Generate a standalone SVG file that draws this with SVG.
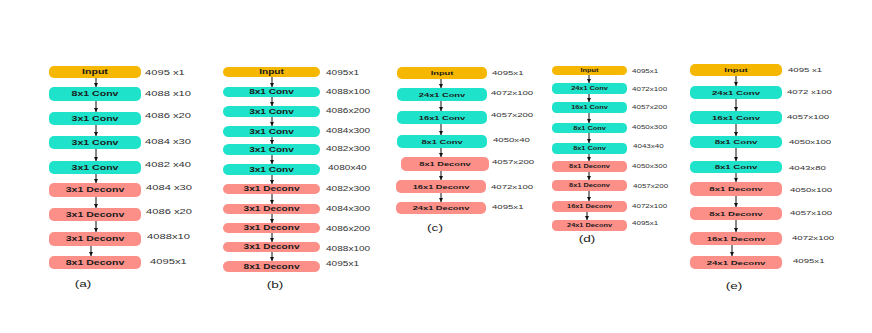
<svg xmlns="http://www.w3.org/2000/svg" width="872" height="333" viewBox="0 0 872 333">
<defs>
<marker id="ah" viewBox="0 0 4 4" refX="4" refY="2" markerWidth="4" markerHeight="4" markerUnits="userSpaceOnUse" orient="auto"><path d="M0,0 L4,2 L0,4 z" fill="#111"/></marker>
</defs>
<style>
text{font-family:"Liberation Sans",Arial,sans-serif;}
.in{fill:#F5B700;}
.cv{fill:#1EE3CA;}
.dc{fill:#FC8F88;}
.t{font-weight:bold;fill:#1a1a1a;text-anchor:middle;}
.l{fill:#333;}
.cap{fill:#222;text-anchor:middle;font-size:8.5px;}
.ta{font-size:6.6px}.la{font-size:7px}
.tb{font-size:6.3px}.lb{font-size:6.3px}
.tc{font-size:5.8px}.lc{font-size:6px}
.td{font-size:4.6px}.ld{font-size:5px}
.te{font-size:6px}.le{font-size:6px}
.ar{stroke:#111;stroke-width:1;fill:none;marker-end:url(#ah);}
</style>
<rect width="872" height="333" fill="#fff"/>

<!-- Column (a) -->
<g id="col-a">
<g id="a1"><rect class="in" x="49" y="66" width="92" height="12" rx="5"/><text class="t ta" transform="matrix(1.6 0 0 1 95 74.4)">Input</text></g>
<g id="a2"><rect class="cv" x="49" y="87" width="92" height="14" rx="5"/><text class="t ta" transform="matrix(1.6 0 0 1 95 96.4)">8x1 Conv</text></g>
<g id="a3"><rect class="cv" x="49" y="112" width="92" height="13" rx="5"/><text class="t ta" transform="matrix(1.6 0 0 1 95 120.9)">3x1 Conv</text></g>
<g id="a4"><rect class="cv" x="49" y="136" width="92" height="13" rx="5"/><text class="t ta" transform="matrix(1.6 0 0 1 95 144.9)">3x1 Conv</text></g>
<g id="a5"><rect class="cv" x="49" y="161" width="92" height="13" rx="5"/><text class="t ta" transform="matrix(1.6 0 0 1 95 169.9)">3x1 Conv</text></g>
<g id="a6"><rect class="dc" x="49" y="183" width="92" height="14" rx="5"/><text class="t ta" transform="matrix(1.6 0 0 1 95 192.4)">3x1 Deconv</text></g>
<g id="a7"><rect class="dc" x="49" y="208" width="92" height="13" rx="5"/><text class="t ta" transform="matrix(1.6 0 0 1 95 216.9)">3x1 Deconv</text></g>
<g id="a8"><rect class="dc" x="49" y="232" width="92" height="14" rx="5"/><text class="t ta" transform="matrix(1.6 0 0 1 95 241.4)">3x1 Deconv</text></g>
<g id="a9"><rect class="dc" x="49" y="256" width="92" height="13" rx="5"/><text class="t ta" transform="matrix(1.6 0 0 1 95 264.9)">8x1 Deconv</text></g>
<text class="l la" transform="matrix(1.6 0 0 1 145 74.5)">4095 x1</text>
<text class="l la" transform="matrix(1.6 0 0 1 145 95.5)">4088 x10</text>
<text class="l la" transform="matrix(1.6 0 0 1 145 117.5)">4086 x20</text>
<text class="l la" transform="matrix(1.6 0 0 1 145 143.5)">4084 x30</text>
<text class="l la" transform="matrix(1.6 0 0 1 145 166.5)">4082 x40</text>
<text class="l la" transform="matrix(1.6 0 0 1 146 189.5)">4084 x30</text>
<text class="l la" transform="matrix(1.6 0 0 1 146 213.5)">4086 x20</text>
<text class="l la" transform="matrix(1.6 0 0 1 147 238.5)">4088x10</text>
<text class="l la" transform="matrix(1.6 0 0 1 150 263.5)">4095x1</text>
<text class="cap" transform="matrix(1.6 0 0 1 83 287)">(a)</text>
</g>

<!-- Column (b) -->
<g id="col-b">
<g id="b1"><rect class="in" x="223" y="67" width="97" height="10" rx="5"/><text class="t tb" transform="matrix(1.6 0 0 1 271.5 74.3)">Input</text></g>
<g id="b2"><rect class="cv" x="223" y="87" width="97" height="10" rx="5"/><text class="t tb" transform="matrix(1.6 0 0 1 271.5 94.3)">8x1 Conv</text></g>
<g id="b3"><rect class="cv" x="223" y="106" width="97" height="11" rx="5.5"/><text class="t tb" transform="matrix(1.6 0 0 1 271.5 113.8)">3x1 Conv</text></g>
<g id="b4"><rect class="cv" x="223" y="126" width="97" height="11" rx="5.5"/><text class="t tb" transform="matrix(1.6 0 0 1 271.5 133.8)">3x1 Conv</text></g>
<g id="b5"><rect class="cv" x="223" y="144" width="97" height="11" rx="5.5"/><text class="t tb" transform="matrix(1.6 0 0 1 271.5 151.8)">3x1 Conv</text></g>
<g id="b6"><rect class="cv" x="223" y="164" width="97" height="11" rx="5.5"/><text class="t tb" transform="matrix(1.6 0 0 1 271.5 171.8)">3x1 Conv</text></g>
<g id="b7"><rect class="dc" x="223" y="184" width="97" height="10" rx="5"/><text class="t tb" transform="matrix(1.6 0 0 1 271.5 191.3)">3x1 Deconv</text></g>
<g id="b8"><rect class="dc" x="223" y="204" width="97" height="10" rx="5"/><text class="t tb" transform="matrix(1.6 0 0 1 271.5 211.3)">3x1 Deconv</text></g>
<g id="b9"><rect class="dc" x="223" y="223" width="97" height="10" rx="5"/><text class="t tb" transform="matrix(1.6 0 0 1 271.5 230.3)">3x1 Deconv</text></g>
<g id="b10"><rect class="dc" x="223" y="242" width="97" height="10" rx="5"/><text class="t tb" transform="matrix(1.6 0 0 1 271.5 249.3)">3x1 Deconv</text></g>
<g id="b11"><rect class="dc" x="223" y="261" width="97" height="11" rx="5.5"/><text class="t tb" transform="matrix(1.6 0 0 1 271.5 268.8)">8x1 Deconv</text></g>
<text class="l lb" transform="matrix(1.6 0 0 1 326 75.3)">4095x1</text>
<text class="l lb" transform="matrix(1.6 0 0 1 326 94.3)">4088x100</text>
<text class="l lb" transform="matrix(1.6 0 0 1 326 113.3)">4086x200</text>
<text class="l lb" transform="matrix(1.6 0 0 1 326 133.3)">4084x300</text>
<text class="l lb" transform="matrix(1.6 0 0 1 326 151.3)">4082x300</text>
<text class="l lb" transform="matrix(1.6 0 0 1 328 170.3)">4080x40</text>
<text class="l lb" transform="matrix(1.6 0 0 1 326 191.3)">4082x300</text>
<text class="l lb" transform="matrix(1.6 0 0 1 326 211.3)">4084x300</text>
<text class="l lb" transform="matrix(1.6 0 0 1 326 231.3)">4086x200</text>
<text class="l lb" transform="matrix(1.6 0 0 1 326 251.3)">4088x100</text>
<text class="l lb" transform="matrix(1.6 0 0 1 326 266.3)">4095x1</text>
<text class="cap" transform="matrix(1.6 0 0 1 275 288)">(b)</text>
</g>

<!-- Column (c) -->
<g id="col-c">
<g id="c1"><rect class="in" x="397" y="67" width="90" height="12" rx="5"/><text class="t tc" transform="matrix(1.6 0 0 1 442 75.1)">Input</text></g>
<g id="c2"><rect class="cv" x="397" y="88" width="90" height="13" rx="5"/><text class="t tc" transform="matrix(1.6 0 0 1 442 96.6)">24x1 Conv</text></g>
<g id="c3"><rect class="cv" x="397" y="111" width="90" height="13" rx="5"/><text class="t tc" transform="matrix(1.6 0 0 1 442 119.6)">16x1 Conv</text></g>
<g id="c4"><rect class="cv" x="397" y="135" width="90" height="13" rx="5"/><text class="t tc" transform="matrix(1.6 0 0 1 442 143.6)">8x1 Conv</text></g>
<g id="c5"><rect class="dc" x="401" y="157" width="88" height="14" rx="5"/><text class="t tc" transform="matrix(1.6 0 0 1 445 166.1)">8x1 Deconv</text></g>
<g id="c6"><rect class="dc" x="396" y="180" width="90" height="13" rx="5"/><text class="t tc" transform="matrix(1.6 0 0 1 441 188.6)">16x1 Deconv</text></g>
<g id="c7"><rect class="dc" x="396" y="202" width="90" height="12" rx="5"/><text class="t tc" transform="matrix(1.6 0 0 1 441 210.1)">24x1 Deconv</text></g>
<text class="l lc" transform="matrix(1.6 0 0 1 492 75.2)">4095x1</text>
<text class="l lc" transform="matrix(1.6 0 0 1 491 95.2)">4072x100</text>
<text class="l lc" transform="matrix(1.6 0 0 1 491 117.2)">4057x200</text>
<text class="l lc" transform="matrix(1.6 0 0 1 493 142.2)">4050x40</text>
<text class="l lc" transform="matrix(1.6 0 0 1 492 164.2)">4057x200</text>
<text class="l lc" transform="matrix(1.6 0 0 1 491 189.2)">4072x100</text>
<text class="l lc" transform="matrix(1.6 0 0 1 492 209.2)">4095x1</text>
<text class="cap" transform="matrix(1.6 0 0 1 435 231)">(c)</text>
</g>

<!-- Column (d) -->
<g id="col-d">
<g id="d1"><rect class="in" x="552" y="66" width="75" height="9" rx="4.5"/><text class="t td" transform="matrix(1.6 0 0 1 589.5 72.2)">Input</text></g>
<g id="d2"><rect class="cv" x="552" y="83" width="75" height="11" rx="4.5"/><text class="t td" transform="matrix(1.6 0 0 1 589.5 90.2)">24x1 Conv</text></g>
<g id="d3"><rect class="cv" x="552" y="102" width="75" height="11" rx="4.5"/><text class="t td" transform="matrix(1.6 0 0 1 589.5 109.2)">16x1 Conv</text></g>
<g id="d4"><rect class="cv" x="552" y="123" width="75" height="10" rx="4.5"/><text class="t td" transform="matrix(1.6 0 0 1 589.5 129.7)">8x1 Conv</text></g>
<g id="d5"><rect class="cv" x="552" y="143" width="75" height="11" rx="4.5"/><text class="t td" transform="matrix(1.6 0 0 1 589.5 150.2)">8x1 Conv</text></g>
<g id="d6"><rect class="dc" x="552" y="161" width="75" height="11" rx="4.5"/><text class="t td" transform="matrix(1.6 0 0 1 589.5 168.2)">8x1 Deconv</text></g>
<g id="d7"><rect class="dc" x="552" y="180" width="75" height="11" rx="4.5"/><text class="t td" transform="matrix(1.6 0 0 1 589.5 187.2)">8x1 Deconv</text></g>
<g id="d8"><rect class="dc" x="552" y="201" width="75" height="11" rx="4.5"/><text class="t td" transform="matrix(1.6 0 0 1 589.5 208.2)">16x1 Deconv</text></g>
<g id="d9"><rect class="dc" x="552" y="220" width="75" height="11" rx="4.5"/><text class="t td" transform="matrix(1.6 0 0 1 589.5 227.2)">24x1 Deconv</text></g>
<text class="l ld" transform="matrix(1.6 0 0 1 632 72.8)">4095x1</text>
<text class="l ld" transform="matrix(1.6 0 0 1 632 90.8)">4072x100</text>
<text class="l ld" transform="matrix(1.6 0 0 1 632 108.8)">4057x200</text>
<text class="l ld" transform="matrix(1.6 0 0 1 632 128.8)">4050x300</text>
<text class="l ld" transform="matrix(1.6 0 0 1 633 147.8)">4043x40</text>
<text class="l ld" transform="matrix(1.6 0 0 1 632 167.8)">4050x300</text>
<text class="l ld" transform="matrix(1.6 0 0 1 633 187.8)">4057x200</text>
<text class="l ld" transform="matrix(1.6 0 0 1 632 207.8)">4072x100</text>
<text class="l ld" transform="matrix(1.6 0 0 1 632 224.8)">4095x1</text>
<text class="cap" transform="matrix(1.6 0 0 1 587 242)">(d)</text>
</g>

<!-- Column (e) -->
<g id="col-e">
<g id="e1"><rect class="in" x="690" y="64" width="92" height="12" rx="5"/><text class="t te" transform="matrix(1.6 0 0 1 736 72.2)">Input</text></g>
<g id="e2"><rect class="cv" x="690" y="86" width="92" height="13" rx="5"/><text class="t te" transform="matrix(1.6 0 0 1 736 94.7)">24x1 Conv</text></g>
<g id="e3"><rect class="cv" x="690" y="111" width="92" height="13" rx="5"/><text class="t te" transform="matrix(1.6 0 0 1 736 119.7)">16x1 Conv</text></g>
<g id="e4"><rect class="cv" x="690" y="136" width="92" height="12" rx="5"/><text class="t te" transform="matrix(1.6 0 0 1 736 144.2)">8x1 Conv</text></g>
<g id="e5"><rect class="cv" x="690" y="161" width="92" height="12" rx="5"/><text class="t te" transform="matrix(1.6 0 0 1 736 169.2)">8x1 Conv</text></g>
<g id="e6"><rect class="dc" x="690" y="182" width="92" height="14" rx="5"/><text class="t te" transform="matrix(1.6 0 0 1 736 191.2)">8x1 Deconv</text></g>
<g id="e7"><rect class="dc" x="690" y="207" width="92" height="13" rx="5"/><text class="t te" transform="matrix(1.6 0 0 1 736 215.7)">8x1 Deconv</text></g>
<g id="e8"><rect class="dc" x="690" y="232" width="92" height="13" rx="5"/><text class="t te" transform="matrix(1.6 0 0 1 736 240.7)">16x1 Deconv</text></g>
<g id="e9"><rect class="dc" x="690" y="256" width="92" height="13" rx="5"/><text class="t te" transform="matrix(1.6 0 0 1 736 264.7)">24x1 Deconv</text></g>
<text class="l le" transform="matrix(1.6 0 0 1 788 72.2)">4095 x1</text>
<text class="l le" transform="matrix(1.6 0 0 1 787 94.2)">4072 x100</text>
<text class="l le" transform="matrix(1.6 0 0 1 787 119.2)">4057x100</text>
<text class="l le" transform="matrix(1.6 0 0 1 789 144.2)">4050x100</text>
<text class="l le" transform="matrix(1.6 0 0 1 789 170.2)">4043x80</text>
<text class="l le" transform="matrix(1.6 0 0 1 790 192.2)">4050x100</text>
<text class="l le" transform="matrix(1.6 0 0 1 790 215.2)">4057x100</text>
<text class="l le" transform="matrix(1.6 0 0 1 792 240.2)">4072x100</text>
<text class="l le" transform="matrix(1.6 0 0 1 793 263.2)">4095x1</text>
<text class="cap" transform="matrix(1.6 0 0 1 734 289)">(e)</text>
</g>

<g id="connectors">
<path class="ar" d="M96 78V87"/><path class="ar" d="M96 101V112"/><path class="ar" d="M96 125V136"/><path class="ar" d="M96 149V161"/>
<path class="ar" d="M96 174V183"/><path class="ar" d="M96 197V208"/><path class="ar" d="M96 221V232"/><path class="ar" d="M91 246V256"/>
<path class="ar" d="M272 77V87"/><path class="ar" d="M272 97V106"/><path class="ar" d="M272 117V126"/><path class="ar" d="M272 137V144"/>
<path class="ar" d="M272 155V164"/><path class="ar" d="M272 175V184"/><path class="ar" d="M272 194V204"/><path class="ar" d="M272 214V223"/>
<path class="ar" d="M272 233V242"/><path class="ar" d="M272 252V261"/>
<path class="ar" d="M441 79V88"/><path class="ar" d="M441 101V111"/><path class="ar" d="M441 124V135"/><path class="ar" d="M441 148V157"/>
<path class="ar" d="M441 171V180"/><path class="ar" d="M441 193V202"/>
<path class="ar" d="M589 75V83"/><path class="ar" d="M589 94V102"/><path class="ar" d="M589 113V123"/><path class="ar" d="M589 133V143"/>
<path class="ar" d="M589 154V161"/><path class="ar" d="M589 172V180"/><path class="ar" d="M589 191V201"/><path class="ar" d="M587 212V220"/>
<path class="ar" d="M736 76V86"/><path class="ar" d="M736 99V111"/><path class="ar" d="M736 124V136"/><path class="ar" d="M736 148V161"/>
<path class="ar" d="M736 173V182"/><path class="ar" d="M736 196V207"/><path class="ar" d="M736 220V232"/><path class="ar" d="M732 245V256"/>
</g>
</svg>
